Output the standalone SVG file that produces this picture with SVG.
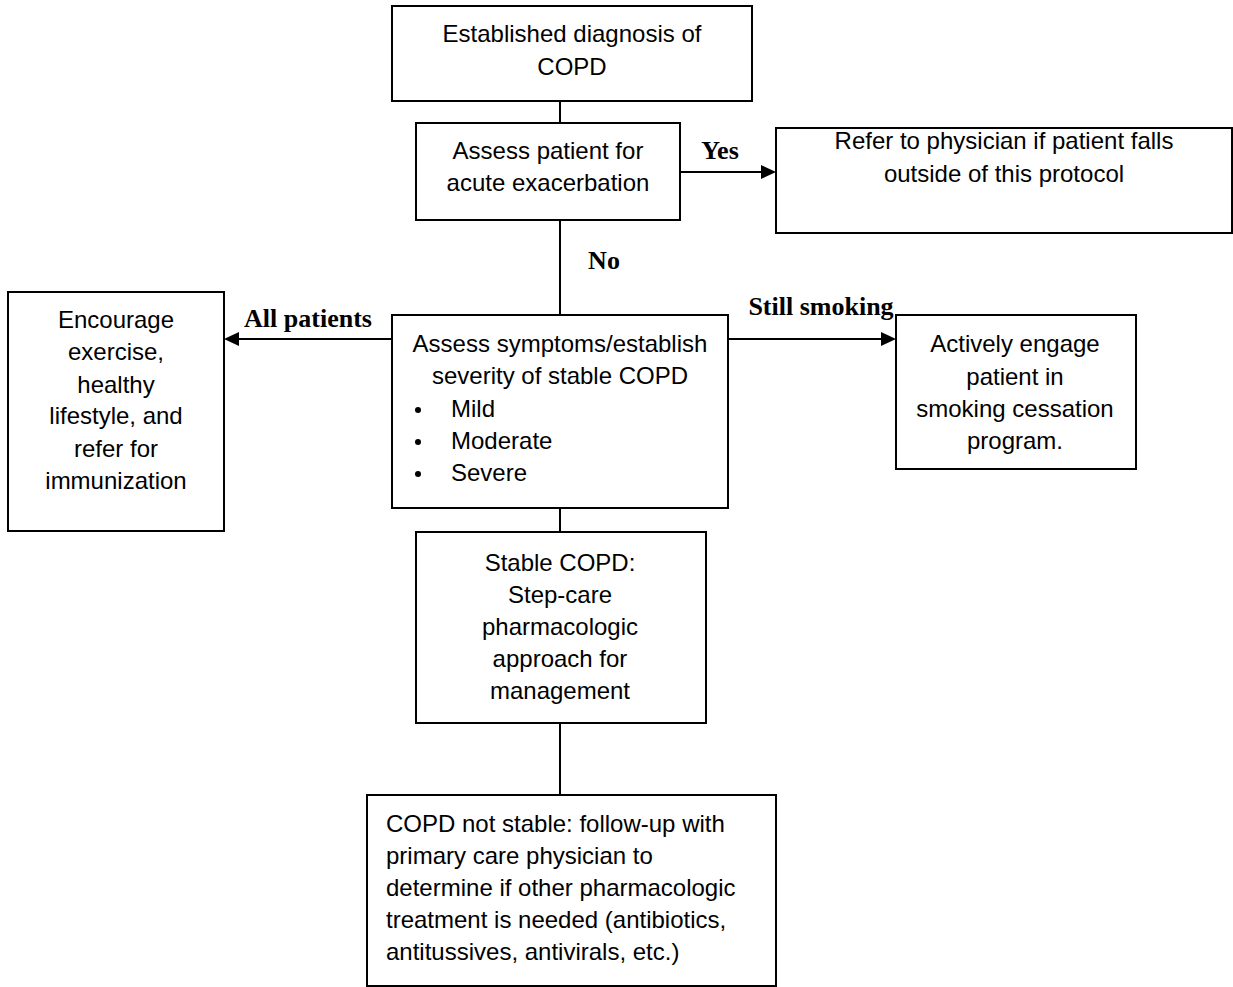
<svg xmlns="http://www.w3.org/2000/svg" width="1233" height="987" viewBox="0 0 1233 987">
<style>
.box{fill:#fff;stroke:#000;stroke-width:2}
.t{font-family:"Liberation Sans",Arial,sans-serif;font-size:24px;fill:#000;text-anchor:middle}
.tl{font-family:"Liberation Sans",Arial,sans-serif;font-size:24px;fill:#000}
.lbl{font-family:"Liberation Serif","Times New Roman",serif;font-size:26px;font-weight:bold;fill:#000;text-anchor:middle}
.ln{stroke:#000;stroke-width:2;fill:none}
</style>
<rect width="1233" height="987" fill="#fff"/>
<g id="connectors">
<line class="ln" x1="560" y1="101" x2="560" y2="123"/>
<line class="ln" x1="560" y1="220" x2="560" y2="315"/>
<line class="ln" x1="560" y1="508" x2="560" y2="532"/>
<line class="ln" x1="560" y1="723" x2="560" y2="795"/>
<path class="ln" d="M680,172 L761,172"/>
<path d="M761,165 L776,172 L761,179 z" fill="#000"/>
<path class="ln" d="M392,339 L239,339"/>
<path d="M239,332 L224,339 L239,346 z" fill="#000"/>
<path class="ln" d="M728,339 L881,339"/>
<path d="M881,332 L896,339 L881,346 z" fill="#000"/>
<text class="lbl" x="720" y="159">Yes</text>
<text class="lbl" x="604" y="269">No</text>
<text class="lbl" x="308" y="327">All patients</text>
<text class="lbl" x="821" y="315">Still smoking</text>
</g>
<g id="n1">
<rect class="box" x="392" y="6" width="360" height="95"/>
<text class="t" x="572" y="42">Established diagnosis of</text>
<text class="t" x="572" y="75">COPD</text>
</g>
<g id="n2">
<rect class="box" x="416" y="123" width="264" height="97"/>
<text class="t" x="548" y="159">Assess patient for</text>
<text class="t" x="548" y="191">acute exacerbation</text>
</g>
<g id="n3">
<rect class="box" x="776" y="128" width="456" height="105"/>
<text class="t" x="1004" y="149">Refer to physician if patient falls</text>
<text class="t" x="1004" y="182">outside of this protocol</text>
</g>
<g id="n4">
<rect class="box" x="8" y="292" width="216" height="239"/>
<text class="t" x="116" y="328">Encourage</text>
<text class="t" x="116" y="360">exercise,</text>
<text class="t" x="116" y="393">healthy</text>
<text class="t" x="116" y="424">lifestyle, and</text>
<text class="t" x="116" y="457">refer for</text>
<text class="t" x="116" y="489">immunization</text>
</g>
<g id="n5">
<rect class="box" x="392" y="315" width="336" height="193"/>
<text class="t" x="560" y="352">Assess symptoms/establish</text>
<text class="t" x="560" y="384">severity of stable COPD</text>
<circle cx="418" cy="410" r="3"/>
<circle cx="418" cy="442" r="3"/>
<circle cx="418" cy="474" r="3"/>
<text class="tl" x="451" y="417">Mild</text>
<text class="tl" x="451" y="449">Moderate</text>
<text class="tl" x="451" y="481">Severe</text>
</g>
<g id="n6">
<rect class="box" x="896" y="315" width="240" height="154"/>
<text class="t" x="1015" y="352">Actively engage</text>
<text class="t" x="1015" y="385">patient in</text>
<text class="t" x="1015" y="417">smoking cessation</text>
<text class="t" x="1015" y="449">program.</text>
</g>
<g id="n7">
<rect class="box" x="416" y="532" width="290" height="191"/>
<text class="t" x="560" y="571">Stable COPD:</text>
<text class="t" x="560" y="603">Step-care</text>
<text class="t" x="560" y="635">pharmacologic</text>
<text class="t" x="560" y="667">approach for</text>
<text class="t" x="560" y="699">management</text>
</g>
<g id="n8">
<rect class="box" x="367" y="795" width="409" height="191"/>
<text class="tl" x="386" y="832">COPD not stable: follow-up with</text>
<text class="tl" x="386" y="864">primary care physician to</text>
<text class="tl" x="386" y="896">determine if other pharmacologic</text>
<text class="tl" x="386" y="928">treatment is needed (antibiotics,</text>
<text class="tl" x="386" y="960">antitussives, antivirals, etc.)</text>
</g>
</svg>
